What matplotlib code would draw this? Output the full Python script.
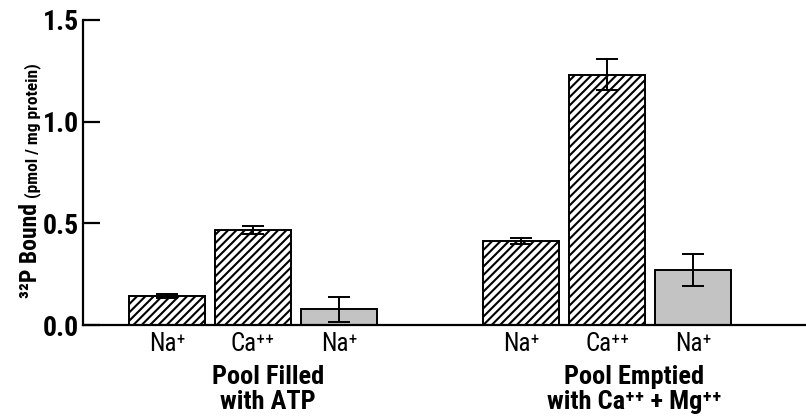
import matplotlib
matplotlib.use('Agg')
import matplotlib.pyplot as plt
from matplotlib import font_manager
from matplotlib.transforms import blended_transform_factory
import numpy as np

# ---- data ----
categories = ['Na⁺', 'Ca⁺⁺', 'Na⁺']
group_labels = ['Pool Filled\nwith ATP', 'Pool Emptied\nwith Ca⁺⁺ + Mg⁺⁺']
filled_values = [0.143, 0.468, 0.077]
filled_errors = [0.008, 0.019, 0.063]
emptied_values = [0.414, 1.230, 0.269]
emptied_errors = [0.014, 0.076, 0.078]
yticks = [0.0, 0.5, 1.0, 1.5]
ytick_labels = ['0.0', '0.5', '1.0', '1.5']
ylabel_main = '³²P Bound'
ylabel_unit = '(pmol / mg protein)'

# ---- fonts ----
def wnum(w):
    if isinstance(w, (int, float)):
        return w
    return font_manager.weight_dict.get(str(w).lower(), 400)

fonts = {}
for f in font_manager.fontManager.ttflist:
    fonts.setdefault(f.name, set()).add(wnum(f.weight))
prefs = ['Liberation Sans Narrow', 'Nimbus Sans Narrow', 'Arial Narrow', 'Roboto Condensed',
         'PT Sans Narrow', 'Asap Condensed', 'Barlow Condensed', 'Archivo Narrow']
base = None
for p in prefs:
    if p in fonts and any(w >= 600 for w in fonts[p]) and any(w <= 450 for w in fonts[p]):
        base = p
        break
narrow = base is not None
if base is None:
    base = 'Liberation Sans'
fam = [base, 'DejaVu Sans']
plt.rcParams['font.family'] = fam
plt.rcParams['hatch.linewidth'] = 1.5
scale = 1.0 if narrow else 0.85

W, H = 806, 418
fig = plt.figure(figsize=(W / 100, H / 100), dpi=100)
ax = fig.add_axes([83 / W, 1 - 325 / H, 1 - 83 / W, (325 - 20) / H])

pos1 = np.arange(3)
pos2 = np.arange(3) + 4.12
width = 0.884
styles = [dict(facecolor='white', hatch='////'), dict(facecolor='white', hatch='////'),
          dict(facecolor='#c3c3c3', hatch=None)]

for pos, vals, errs in [(pos1, filled_values, filled_errors), (pos2, emptied_values, emptied_errors)]:
    for p, v, st in zip(pos, vals, styles):
        ax.bar(p, v, width=width, edgecolor='black', linewidth=1.4, zorder=2, **st)
    ax.errorbar(pos, vals, yerr=errs, fmt='none', ecolor='black', elinewidth=1.4,
                capsize=8, capthick=1.4, zorder=3)

ax.set_xlim((83 - 167) / 86, (806 - 167) / 86)
ax.set_ylim(0, 1.5)
ax.set_yticks(yticks)
ax.set_yticklabels(ytick_labels, fontweight='bold', fontsize=20 * scale)
ax.tick_params(axis='y', direction='in', length=12, width=1.6, pad=3)
ax.set_xticks([])
for s in ['top', 'right']:
    ax.spines[s].set_visible(False)
for s in ['left', 'bottom']:
    ax.spines[s].set_linewidth(1.6)
ax.spines['bottom'].set_zorder(4)

trans = blended_transform_factory(ax.transData, ax.transAxes)
for pos in (pos1, pos2):
    for p, c in zip(pos, categories):
        ax.text(p, -0.022, c, transform=trans, ha='center', va='top', fontsize=18 * scale)

group_x = [1.174, 5.43]
for gx, gl in zip(group_x, group_labels):
    ax.text(gx, -0.13, gl, transform=trans, ha='center', va='top', fontsize=19 * scale,
            fontweight='bold', linespacing=1.05)

# y label in two sizes
t1 = fig.text(37 / W, 1 - 298 / H, ylabel_main, rotation=90, rotation_mode='anchor',
              ha='left', va='baseline', fontsize=17 * scale, fontweight='bold')
fig.canvas.draw()
bb = t1.get_window_extent(fig.canvas.get_renderer())
fig.text(37 / W, (bb.y1 + 5) / H, ylabel_unit, rotation=90, rotation_mode='anchor',
         ha='left', va='baseline', fontsize=12.5 * scale, fontweight='bold')

fig.savefig('out.png', dpi=100)
